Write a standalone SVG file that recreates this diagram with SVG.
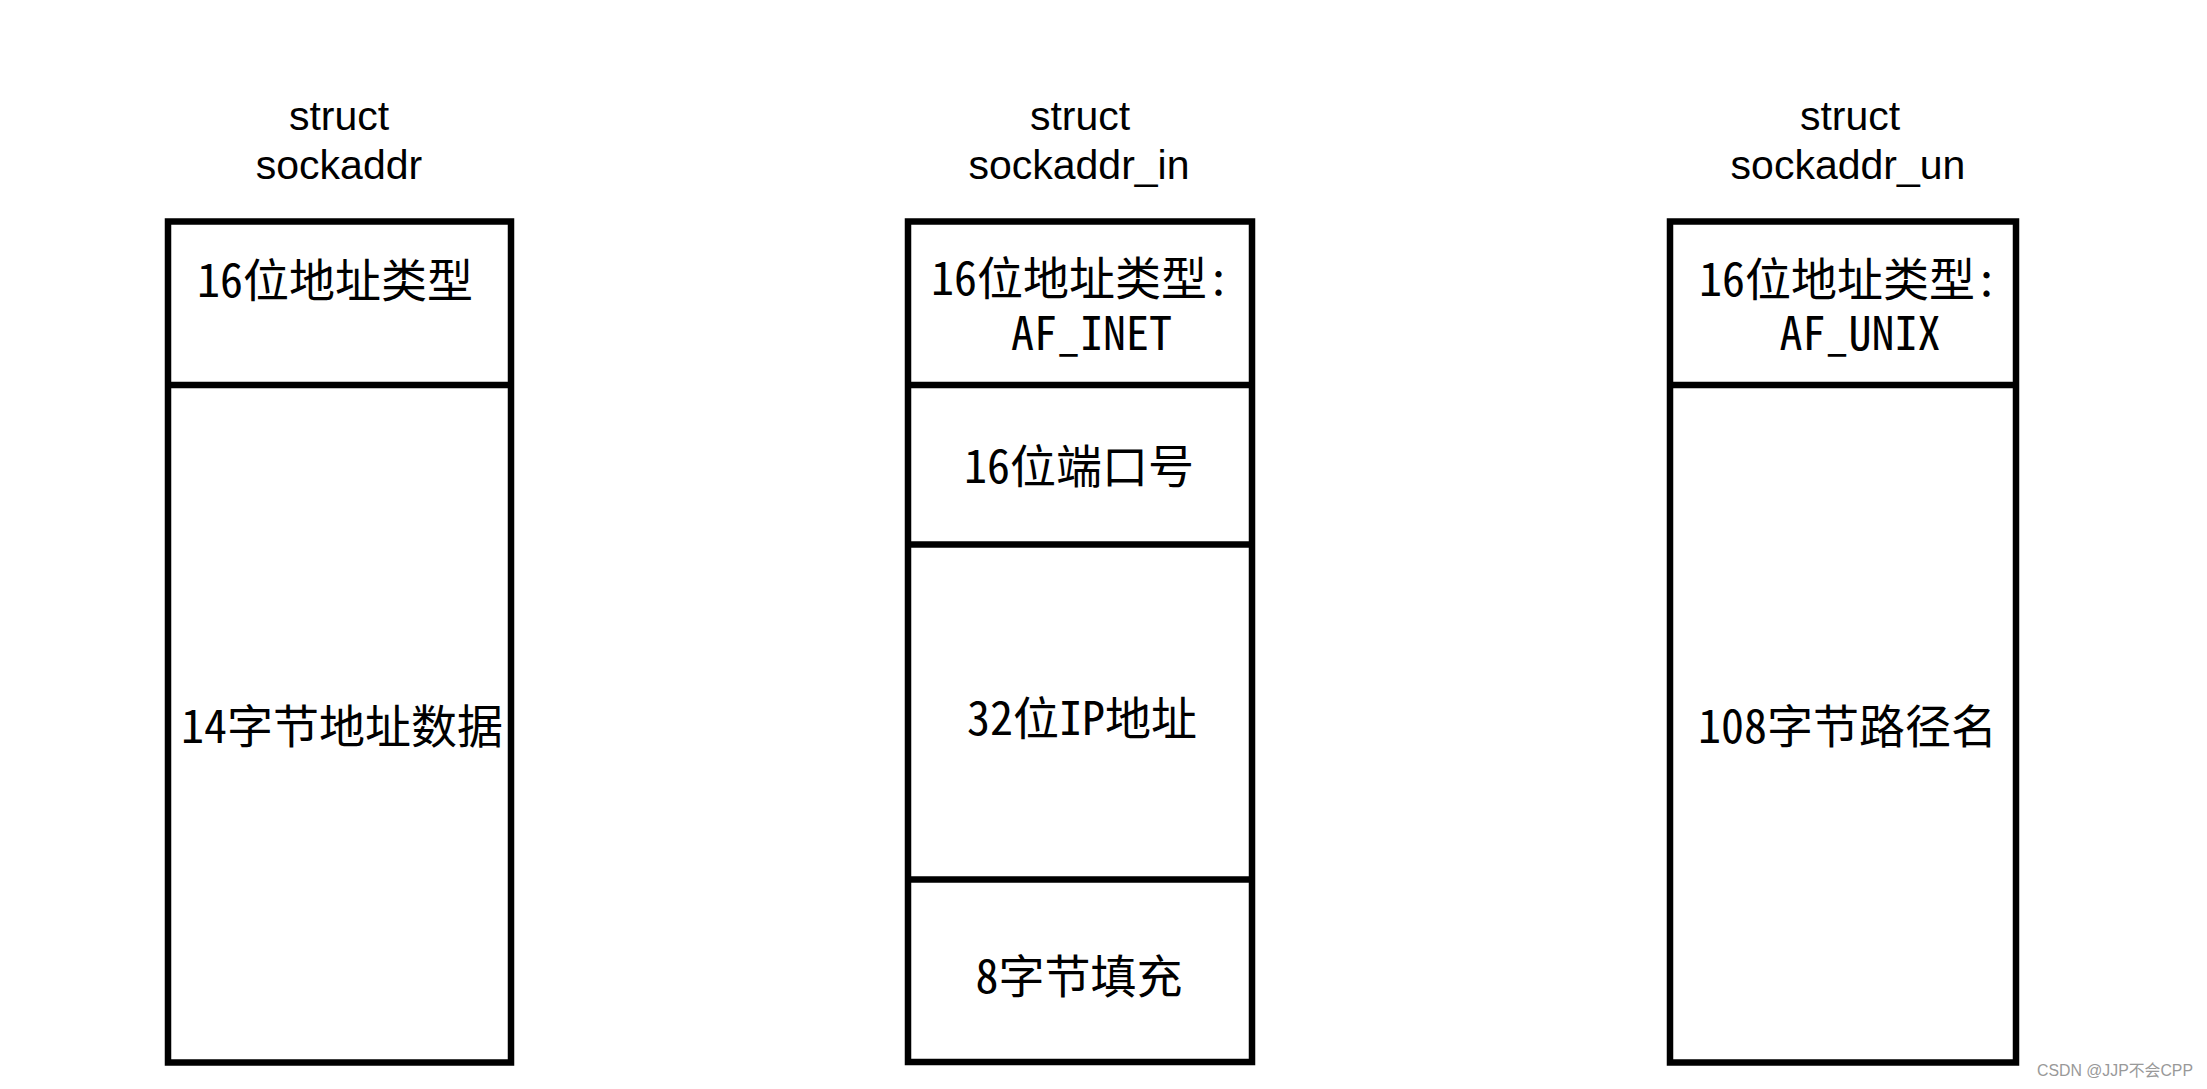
<svg xmlns="http://www.w3.org/2000/svg" width="2207" height="1089" viewBox="0 0 2207 1089">
<style>
.box{fill:#fff;stroke:#000;stroke-width:6.5}
.div{stroke:#000;stroke-width:6.5;fill:none}
.t{font-family:"Noto Sans Mono CJK SC","Noto Sans CJK SC",sans-serif;font-size:46px;fill:#000;text-anchor:middle}
.h{font-family:"Liberation Sans",Arial,sans-serif;font-size:41px;fill:#000;text-anchor:middle}
.wm{font-family:"Liberation Sans","Noto Sans CJK SC",sans-serif;font-size:16px;fill:#999}
</style>
<rect width="2207" height="1089" fill="#fff"/>
<g id="sockaddr">
<text class="h"><tspan x="339" y="130">struct</tspan><tspan x="339" y="179">sockaddr</tspan></text>
<rect class="box" x="168" y="221.5" width="343" height="841"/>
<line class="div" x1="168" y1="385" x2="511" y2="385"/>
<text class="t" x="335" y="297">16位地址类型</text>
<text class="t" x="342" y="743">14字节地址数据</text>
</g>
<g id="sockaddr_in">
<text class="h"><tspan x="1080" y="130">struct</tspan><tspan x="1079" y="179">sockaddr_in</tspan></text>
<rect class="box" x="908" y="221.5" width="344" height="840.5"/>
<line class="div" x1="908" y1="385" x2="1252" y2="385"/>
<line class="div" x1="908" y1="544.5" x2="1252" y2="544.5"/>
<line class="div" x1="908" y1="879.5" x2="1252" y2="879.5"/>
<text class="t"><tspan x="1080.5" y="295">16位地址类型:</tspan><tspan x="1091.5" y="350">AF_INET</tspan></text>
<text class="t" x="1079" y="483">16位端口号</text>
<text class="t" x="1082" y="735">32位IP地址</text>
<text class="t" x="1079" y="993">8字节填充</text>
</g>
<g id="sockaddr_un">
<text class="h"><tspan x="1850" y="130">struct</tspan><tspan x="1848" y="179">sockaddr_un</tspan></text>
<rect class="box" x="1670" y="221.5" width="346" height="841"/>
<line class="div" x1="1670" y1="385" x2="2016" y2="385"/>
<text class="t"><tspan x="1848.5" y="296">16位地址类型:</tspan><tspan x="1860" y="350">AF_UNIX</tspan></text>
<text class="t" x="1847.5" y="743">108字节路径名</text>
</g>
<g id="connectors"></g>
<text class="wm" x="2037" y="1076" textLength="156" lengthAdjust="spacingAndGlyphs">CSDN @JJP不会CPP</text>
</svg>
